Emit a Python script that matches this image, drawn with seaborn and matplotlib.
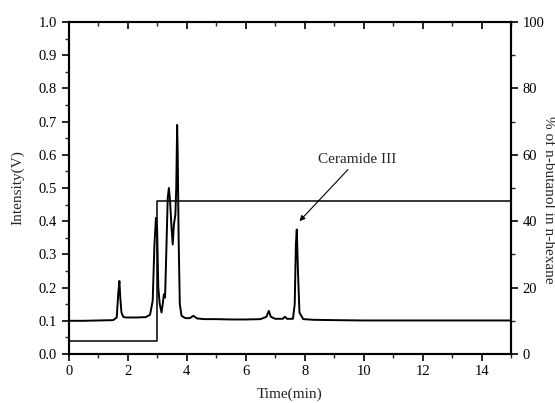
import numpy as np
import pandas as pd
import matplotlib
matplotlib.use("Agg")
import matplotlib.pyplot as plt
import seaborn as sns
from matplotlib.ticker import MultipleLocator

# Chromatogram (time in min, intensity in V)
time_min = [0.0, 0.5, 1.0, 1.5, 1.62, 1.67, 1.71, 1.74, 1.78, 1.84, 1.92, 2.0, 2.3, 2.6,
            2.75, 2.84, 2.9, 2.95, 2.99, 3.03, 3.08, 3.14, 3.18, 3.22, 3.26, 3.3, 3.35,
            3.39, 3.43, 3.48, 3.52, 3.56, 3.61, 3.64, 3.67, 3.69, 3.72, 3.76, 3.82,
            3.95, 4.1, 4.22, 4.35, 4.6, 5.0, 5.5, 6.0, 6.5, 6.7, 6.78, 6.85, 7.0, 7.25,
            7.33, 7.4, 7.6, 7.66, 7.7, 7.73, 7.77, 7.82, 7.95, 8.3, 9.0, 10.0, 11.0,
            12.0, 13.0, 14.0, 15.0]
intensity_v = [0.100, 0.100, 0.101, 0.102, 0.110, 0.180, 0.220, 0.170, 0.125, 0.112, 0.110,
               0.110, 0.110, 0.111, 0.118, 0.160, 0.330, 0.410, 0.380, 0.200, 0.150, 0.125,
               0.150, 0.180, 0.170, 0.300, 0.470, 0.500, 0.460, 0.380, 0.330, 0.390, 0.420,
               0.500, 0.690, 0.600, 0.350, 0.150, 0.115, 0.108, 0.108, 0.115, 0.107, 0.105,
               0.105, 0.104, 0.104, 0.105, 0.112, 0.130, 0.112, 0.106, 0.106, 0.112, 0.106,
               0.106, 0.150, 0.330, 0.375, 0.250, 0.125, 0.105, 0.103, 0.102, 0.101, 0.101,
               0.101, 0.101, 0.101, 0.101]

# Gradient programme: % of n-butanol in n-hexane
grad_time = [0.0, 3.0, 3.0, 15.0]
grad_pct = [4.0, 4.0, 46.0, 46.0]

x_ticks = [0, 2, 4, 6, 8, 10, 12, 14]
y_ticks = [0.0, 0.1, 0.2, 0.3, 0.4, 0.5, 0.6, 0.7, 0.8, 0.9, 1.0]
y2_ticks = [0, 20, 40, 60, 80, 100]

sns.set_style("ticks")
plt.rcParams["font.family"] = ["Liberation Serif", "DejaVu Serif"]

fig = plt.figure(figsize=(5.55, 4.03), dpi=100)
ax = fig.add_axes([69 / 555, 1 - 354 / 403, (511 - 69) / 555, (354 - 22) / 403])

chrom = pd.DataFrame({"t": time_min, "i": intensity_v})
sns.lineplot(data=chrom, x="t", y="i", ax=ax, color="black", linewidth=1.4,
             estimator=None, sort=False)

ax.set_xlim(0, 15)
ax.set_ylim(0, 1.0)
ax.set_xticks(x_ticks)
ax.set_yticks(y_ticks)
ax.set_yticklabels([f"{v:.1f}" for v in y_ticks])
ax.xaxis.set_minor_locator(MultipleLocator(1))
ax.yaxis.set_minor_locator(MultipleLocator(0.05))
ax.tick_params(axis="both", which="major", direction="out", length=5, width=1.2,
               labelsize=10.5, colors="black")
ax.tick_params(axis="both", which="minor", direction="out", length=3, width=1.0)
ax.tick_params(axis="x", which="major", pad=3)
ax.set_xlabel("Time(min)", fontsize=11)
ax.xaxis.set_label_coords(0.5, -0.1)
ax.set_ylabel("Intensity(V)", fontsize=11)
ax.yaxis.set_label_coords(-0.1, 0.5)
for s in ax.spines.values():
    s.set_linewidth(1.5)
    s.set_color("black")

ax2 = ax.twinx()
grad = pd.DataFrame({"t": grad_time, "p": grad_pct})
sns.lineplot(data=grad, x="t", y="p", ax=ax2, color="black", linewidth=1.1,
             estimator=None, sort=False)
ax2.set_ylim(0, 100)
ax2.set_xlim(0, 15)
ax2.set_yticks(y2_ticks)
ax2.yaxis.set_minor_locator(MultipleLocator(10))
ax2.tick_params(axis="y", which="major", direction="out", length=5, width=1.2,
                labelsize=10.5, colors="black")
ax2.tick_params(axis="y", which="minor", direction="out", length=3, width=1.0)
ax2.set_ylabel("% of n-butanol in n-hexane", fontsize=11, rotation=270, va="center")
ax2.yaxis.set_label_coords(1.085, 0.465)
ax2.set_xlabel("")
for s in ax2.spines.values():
    s.set_linewidth(1.5)
    s.set_color("black")

# top ticks point inward
ax.tick_params(axis="x", which="both", top=True)
for t in ax.xaxis.get_major_ticks() + ax.xaxis.get_minor_ticks():
    t.tick2line.set_marker(3)

ax.annotate("Ceramide III", xy=(7.82, 0.40), xytext=(8.45, 0.585),
            fontsize=11, ha="left", va="center",
            arrowprops=dict(arrowstyle="-|>", color="black", lw=0.8,
                            mutation_scale=8, shrinkA=0, shrinkB=0),
            zorder=5)

fig.savefig("out.png", dpi=100)
